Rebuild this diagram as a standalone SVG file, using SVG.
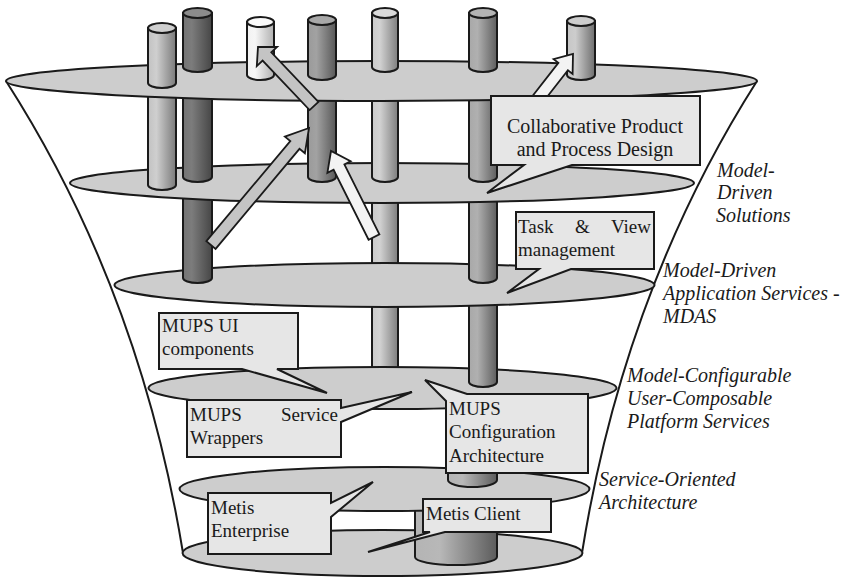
<svg xmlns="http://www.w3.org/2000/svg" width="847" height="578" viewBox="0 0 847 578">
  <style>
    .disc { fill: #cdcdcd; stroke: #1a1a1a; stroke-width: 2; }
    .edge { fill: none; stroke: #1a1a1a; stroke-width: 2; }
    .cyl { stroke: #1a1a1a; stroke-width: 2; }
    .arrow-grey { fill: #c4c4c4; stroke: #1a1a1a; stroke-width: 1.8; stroke-linejoin: miter; }
    .arrow-white { fill: #f3f3f3; stroke: #1a1a1a; stroke-width: 1.8; stroke-linejoin: miter; }
    .bubble { fill: #e6e6e6; stroke: #1a1a1a; stroke-width: 2; stroke-linejoin: miter; }
    .txt { font-family: "Liberation Serif", "Times New Roman", serif; font-size: 19px; fill: #1a1a1a; }
    .lbl { font-family: "Liberation Serif", "Times New Roman", serif; font-size: 20px; font-style: italic; fill: #1a1a1a; }
  </style>
  <defs>
    <linearGradient id="gA" x1="0" y1="0" x2="1" y2="0">
      <stop offset="0" stop-color="#c2c2c2"/><stop offset="0.3" stop-color="#cfcfcf"/><stop offset="1" stop-color="#7a7a7a"/>
    </linearGradient>
    <linearGradient id="gB" x1="0" y1="0" x2="1" y2="0">
      <stop offset="0" stop-color="#747474"/><stop offset="0.3" stop-color="#7c7c7c"/><stop offset="1" stop-color="#464646"/>
    </linearGradient>
    <linearGradient id="gC" x1="0" y1="0" x2="1" y2="0">
      <stop offset="0" stop-color="#f2f2f2"/><stop offset="0.3" stop-color="#f6f6f6"/><stop offset="1" stop-color="#b0b0b0"/>
    </linearGradient>
    <linearGradient id="gD" x1="0" y1="0" x2="1" y2="0">
      <stop offset="0" stop-color="#9a9a9a"/><stop offset="0.3" stop-color="#a2a2a2"/><stop offset="1" stop-color="#585858"/>
    </linearGradient>
    <linearGradient id="gE" x1="0" y1="0" x2="1" y2="0">
      <stop offset="0" stop-color="#cacaca"/><stop offset="0.3" stop-color="#d2d2d2"/><stop offset="1" stop-color="#7e7e7e"/>
    </linearGradient>
    <linearGradient id="gF" x1="0" y1="0" x2="1" y2="0">
      <stop offset="0" stop-color="#a8a8a8"/><stop offset="0.3" stop-color="#b0b0b0"/><stop offset="1" stop-color="#5e5e5e"/>
    </linearGradient>
    <linearGradient id="gG" x1="0" y1="0" x2="1" y2="0">
      <stop offset="0" stop-color="#c6c6c6"/><stop offset="0.3" stop-color="#cdcdcd"/><stop offset="1" stop-color="#6e6e6e"/>
    </linearGradient>
    <linearGradient id="gH" x1="0" y1="0" x2="1" y2="0">
      <stop offset="0" stop-color="#b4b4b4"/><stop offset="0.3" stop-color="#b8b8b8"/><stop offset="1" stop-color="#5c5c5c"/>
    </linearGradient>
  </defs>

  <!-- funnel outline -->
  <g id="funnel">
    <path class="edge" d="M6,81 Q140,290 183,553"/>
    <path class="edge" d="M757,81 Q624,290 582,553"/>
  </g>

  <!-- bottom layer: Service-Oriented Architecture base -->
  <g id="layer-6">
    <ellipse class="disc" cx="382.5" cy="553" rx="200" ry="23"/>
    <path class="cyl" fill="url(#gH)" d="M415,500 V557 A41,8 0 0 0 497,557 V500 Z"/>
  </g>

  <g id="layer-5">
    <ellipse class="disc" cx="384.5" cy="489" rx="205" ry="22"/>
    <path class="cyl" fill="url(#gH)" d="M448,398 V480 A24.5,7 0 0 0 497,480 V398 Z"/>
  </g>

  <g id="layer-4">
    <path class="cyl" fill="url(#gE)" d="M372,295 V380 A13,5 0 0 0 398,380 V295 Z"/>
    <ellipse class="disc" cx="382.5" cy="388" rx="234" ry="21"/>
    <path class="cyl" fill="url(#gF)" d="M469,295 V382 A14,5 0 0 0 497,382 V295 Z"/>
  </g>

  <g id="layer-3">
    <path class="cyl" fill="url(#gE)" d="M372,190 V280 A13,5 0 0 0 398,280 V190 Z"/>
    <ellipse class="disc" cx="384.5" cy="285" rx="270" ry="22"/>
    <path class="cyl" fill="url(#gB)" d="M183,190 V278 A14.5,5 0 0 0 212,278 V190 Z"/>
    <path class="cyl" fill="url(#gF)" d="M469,190 V278 A14,5 0 0 0 497,278 V190 Z"/>
  </g>

  <g id="layer-2">
    <ellipse class="disc" cx="382" cy="183" rx="312" ry="20"/>
    <path class="cyl" fill="url(#gA)" d="M148,90 V185 A14,5 0 0 0 176,185 V90 Z"/>
    <path class="cyl" fill="url(#gB)" d="M183,90 V177 A14.5,5 0 0 0 212,177 V90 Z"/>
    <path class="cyl" fill="url(#gD)" d="M308,90 V177 A14,5 0 0 0 336,177 V90 Z"/>
    <path class="cyl" fill="url(#gE)" d="M372,90 V177 A13,5 0 0 0 398,177 V90 Z"/>
    <path class="cyl" fill="url(#gF)" d="M469,90 V177 A14,5 0 0 0 497,177 V90 Z"/>
  </g>

  <g id="layer-1">
    <ellipse class="disc" cx="381.5" cy="81" rx="375.5" ry="20"/>
    <path class="cyl" fill="url(#gA)" d="M148,28 V83 A14,5 0 0 0 176,83 V28 Z"/>
    <ellipse class="cyl" fill="#cfcfcf" cx="162" cy="28" rx="14" ry="5"/>
    <path class="cyl" fill="url(#gB)" d="M183,13 V67 A14.5,5 0 0 0 212,67 V13 Z"/>
    <ellipse class="cyl" fill="#8c8c8c" cx="197.5" cy="13" rx="14.5" ry="5"/>
    <path class="cyl" fill="url(#gC)" d="M247,22 V75 A13.5,5 0 0 0 274,75 V22 Z"/>
    <ellipse class="cyl" fill="#fafafa" cx="260.5" cy="22" rx="13.5" ry="5"/>
    <path class="cyl" fill="url(#gD)" d="M308,20 V75 A14,5 0 0 0 336,75 V20 Z"/>
    <ellipse class="cyl" fill="#a8a8a8" cx="322" cy="20" rx="14" ry="5"/>
    <path class="cyl" fill="url(#gE)" d="M372,13 V67 A13,5 0 0 0 398,67 V13 Z"/>
    <ellipse class="cyl" fill="#dadada" cx="385" cy="13" rx="13" ry="5"/>
    <path class="cyl" fill="url(#gF)" d="M469,13 V67 A14,5 0 0 0 497,67 V13 Z"/>
    <ellipse class="cyl" fill="#b4b4b4" cx="483" cy="13" rx="14" ry="5"/>
    <path class="cyl" fill="url(#gG)" d="M567,21 V75 A14,5 0 0 0 595,75 V21 Z"/>
    <ellipse class="cyl" fill="#cdcdcd" cx="581" cy="21" rx="14" ry="5"/>
  </g>

  <!-- block arrows -->
  <g id="connectors">
    <polygon class="arrow-grey" points="206.4,241.1 290.3,141.0 284.9,136.6 309,128 304.9,153.2 299.5,148.8 215.6,248.9"/>
    <polygon class="arrow-white" points="379.4,234.3 344.4,164.4 350.6,161.3 331,151 327.4,172.9 333.6,169.8 368.6,239.7"/>
    <polygon class="arrow-grey" points="318.4,101.9 271.3,52.3 277.1,46.8 258,47 256.8,66.1 262.6,60.6 309.6,110.1"/>
    <polygon class="arrow-white" points="525.3,105.3 558.4,62.9 553.6,59.2 573,54 572.6,74.0 567.9,70.3 534.7,112.7"/>
  </g>

  <!-- callouts -->
  <g id="collaborative-design">
    <path class="bubble" d="M491,96 H700 V165 H572 L487,193 L524,165 H491 Z"/>
    <text class="txt" x="595" y="133" text-anchor="middle" style="font-size:20px">Collaborative Product</text>
    <text class="txt" x="595" y="156" text-anchor="middle" style="font-size:20px">and Process Design</text>
  </g>

  <g id="task-view">
    <path class="bubble" d="M516,212 H654 V269 H571 L507,293 L539,269 H516 Z"/>
    <text class="txt" x="518" y="233">Task</text>
    <text class="txt" x="575" y="233">&amp;</text>
    <text class="txt" x="651" y="233" text-anchor="end">View</text>
    <text class="txt" x="518" y="256">management</text>
  </g>

  <g id="mups-ui">
    <path class="bubble" d="M159,313 H298 V369 H277 L327,393 L242,369 H159 Z"/>
    <text class="txt" x="162" y="332">MUPS UI</text>
    <text class="txt" x="162" y="355">components</text>
  </g>

  <g id="mups-wrappers">
    <path class="bubble" d="M187,400 H341 V408 L412,392 L341,422 V457 H187 Z"/>
    <text class="txt" x="190" y="421">MUPS</text>
    <text class="txt" x="338" y="421" text-anchor="end">Service</text>
    <text class="txt" x="190" y="444">Wrappers</text>
  </g>

  <g id="mups-config">
    <path class="bubble" d="M446,401 L425,380 L467,394 H588 V473 H446 Z"/>
    <text class="txt" x="449" y="415">MUPS</text>
    <text class="txt" x="449" y="438">Configuration</text>
    <text class="txt" x="449" y="462">Architecture</text>
  </g>

  <g id="metis-enterprise">
    <path class="bubble" d="M208,493 H331 V503 L373,482 L331,517 V554 H208 Z"/>
    <text class="txt" x="211" y="514">Metis</text>
    <text class="txt" x="211" y="537">Enterprise</text>
  </g>

  <g id="metis-client">
    <path class="bubble" d="M423,499 H551 V532 H445 L368,552 L430,532 H423 Z"/>
    <text class="txt" x="426" y="520">Metis Client</text>
  </g>

  <!-- layer names -->
  <g id="layer-labels">
    <text class="lbl" x="717" y="177">Model-</text>
    <text class="lbl" x="717" y="199">Driven</text>
    <text class="lbl" x="716" y="222">Solutions</text>
    <text class="lbl" x="663" y="277">Model-Driven</text>
    <text class="lbl" x="663" y="300">Application Services -</text>
    <text class="lbl" x="663" y="323">MDAS</text>
    <text class="lbl" x="627" y="382">Model-Configurable</text>
    <text class="lbl" x="627" y="405">User-Composable</text>
    <text class="lbl" x="627" y="428">Platform Services</text>
    <text class="lbl" x="599" y="486">Service-Oriented</text>
    <text class="lbl" x="599" y="509">Architecture</text>
  </g>
</svg>
